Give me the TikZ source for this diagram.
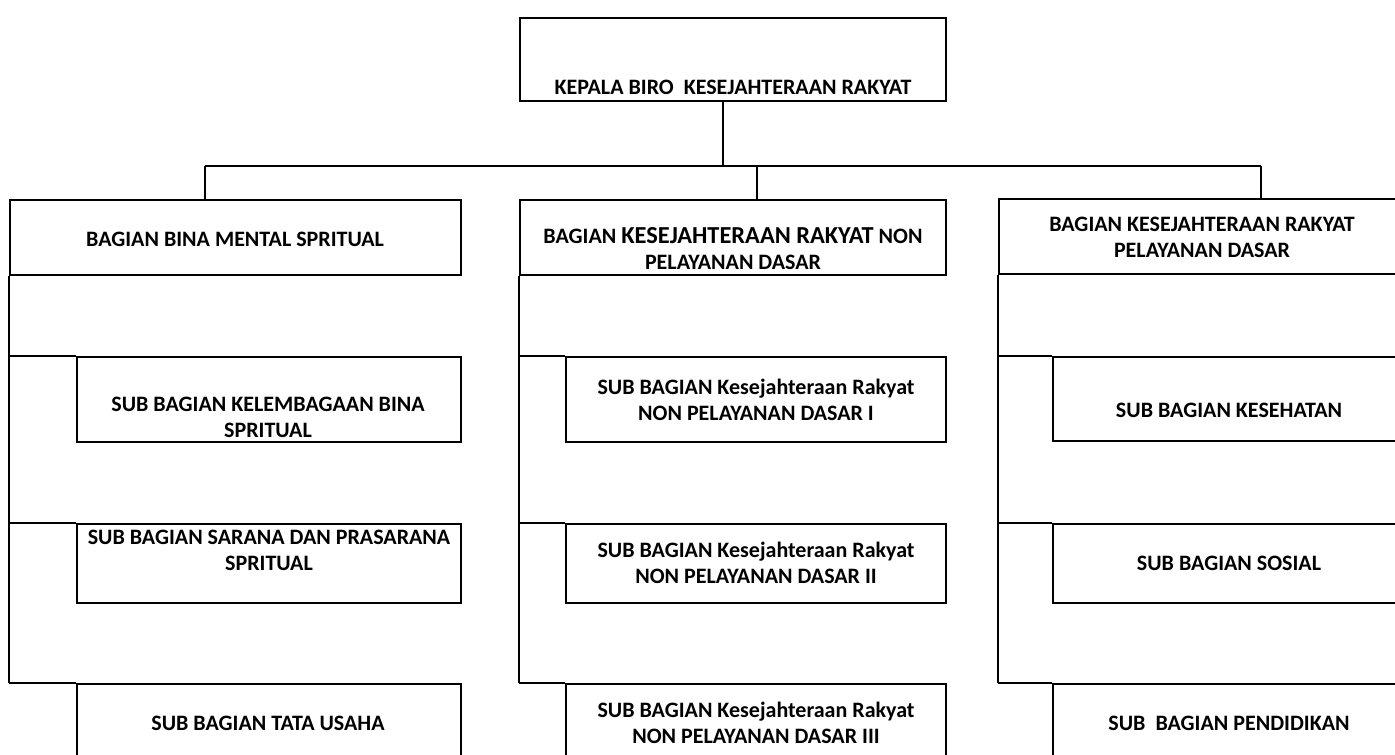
\documentclass[tikz,border=0pt]{standalone}
\usepackage{fontspec}
\setmainfont{Carlito}
\usetikzlibrary{fit}
\tikzset{
  boxst/.style={draw, line width=1pt, inner sep=0pt},
  lbl/.style={font=\bfseries\fontsize{11}{13}\selectfont, align=center, inner sep=0pt, anchor=base},
  wire/.style={line width=1pt},
}
\begin{document}
\begin{tikzpicture}[x=0.5pt,y=-0.5pt]
\path[use as bounding box, clip] (0,0) rectangle (1395,754);
\fill[white] (0,0) rectangle (1395,754);
% boxes
\node[boxst, fit={(520,18) (946,101)}] (T) {};
\node[boxst, fit={(10,200) (461,275)}] (L) {};
\node[boxst, fit={(520,200) (946,275)}] (M) {};
\node[boxst, fit={(999,199) (1405,274)}] (R) {};
\node[boxst, fit={(77,357) (461,442)}] (L1) {};
\node[boxst, fit={(77,524) (461,603)}] (L2) {};
\node[boxst, fit={(77,684) (461,780)}] (L3) {};
\node[boxst, fit={(566,357) (946,442)}] (M1) {};
\node[boxst, fit={(566,524) (946,603)}] (M2) {};
\node[boxst, fit={(566,684) (946,780)}] (M3) {};
\node[boxst, fit={(1053,357) (1405,441)}] (R1) {};
\node[boxst, fit={(1053,524) (1405,603)}] (R2) {};
\node[boxst, fit={(1053,684) (1405,780)}] (R3) {};
% connectors
\coordinate (b0) at (723,166);
\coordinate (bl) at (205,166);
\coordinate (bm) at (757,166);
\coordinate (br) at (1261,166);
\draw[wire] (b0 |- T.south) -- (b0);
\draw[wire] (bl) -- (br);
\draw[wire] (bl) -- (bl |- L.north);
\draw[wire] (bm) -- (bm |- M.north);
\draw[wire] (br) -- (br |- R.north);
\draw[wire] (L.south west) -- (L.south west |- L3.north);
\draw[wire] (L.south west |- L1.north) -- (L1.north west);
\draw[wire] (L.south west |- L2.north) -- (L2.north west);
\draw[wire] (L.south west |- L3.north) -- (L3.north west);
\draw[wire] (M.south west) -- (M.south west |- M3.north);
\draw[wire] (M.south west |- M1.north) -- (M1.north west);
\draw[wire] (M.south west |- M2.north) -- (M2.north west);
\draw[wire] (M.south west |- M3.north) -- (M3.north west);
\draw[wire] (R.south west) -- (R.south west |- R3.north);
\draw[wire] (R.south west |- R1.north) -- (R1.north west);
\draw[wire] (R.south west |- R2.north) -- (R2.north west);
\draw[wire] (R.south west |- R3.north) -- (R3.north west);
% texts (anchor = baseline of last line)
\node[lbl] (tT) at (733,95) {KEPALA BIRO\ \ KESEJAHTERAAN RAKYAT};
\node[lbl] (tL) at (235,246) {BAGIAN BINA MENTAL SPRITUAL};
\node[lbl] (tM) at (733,269) {BAGIAN {\fontsize{12.2}{14}\selectfont KESEJAHTERAAN RAKYAT} NON\\PELAYANAN DASAR};
\node[lbl] (tR) at (1202,257) {BAGIAN KESEJAHTERAAN RAKYAT\\PELAYANAN DASAR};
\node[lbl] (tL1) at (268,437) {SUB BAGIAN KELEMBAGAAN BINA\\SPRITUAL};
\node[lbl] (tL2) at (269,570) {SUB BAGIAN SARANA DAN PRASARANA\\SPRITUAL};
\node[lbl] (tL3) at (268,730) {SUB BAGIAN TATA USAHA};
\node[lbl] (tM1) at (756,420) {SUB BAGIAN Kesejahteraan Rakyat\\NON PELAYANAN DASAR I};
\node[lbl] (tM2) at (756,583) {SUB BAGIAN Kesejahteraan Rakyat\\NON PELAYANAN DASAR II};
\node[lbl] (tM3) at (756,743) {SUB BAGIAN Kesejahteraan Rakyat\\NON PELAYANAN DASAR III};
\node[lbl] (tR1) at (1229,417) {SUB BAGIAN KESEHATAN};
\node[lbl] (tR2) at (1229,570) {SUB BAGIAN SOSIAL};
\node[lbl] (tR3) at (1229,730) {SUB\ \ BAGIAN PENDIDIKAN};
\end{tikzpicture}
\end{document}
